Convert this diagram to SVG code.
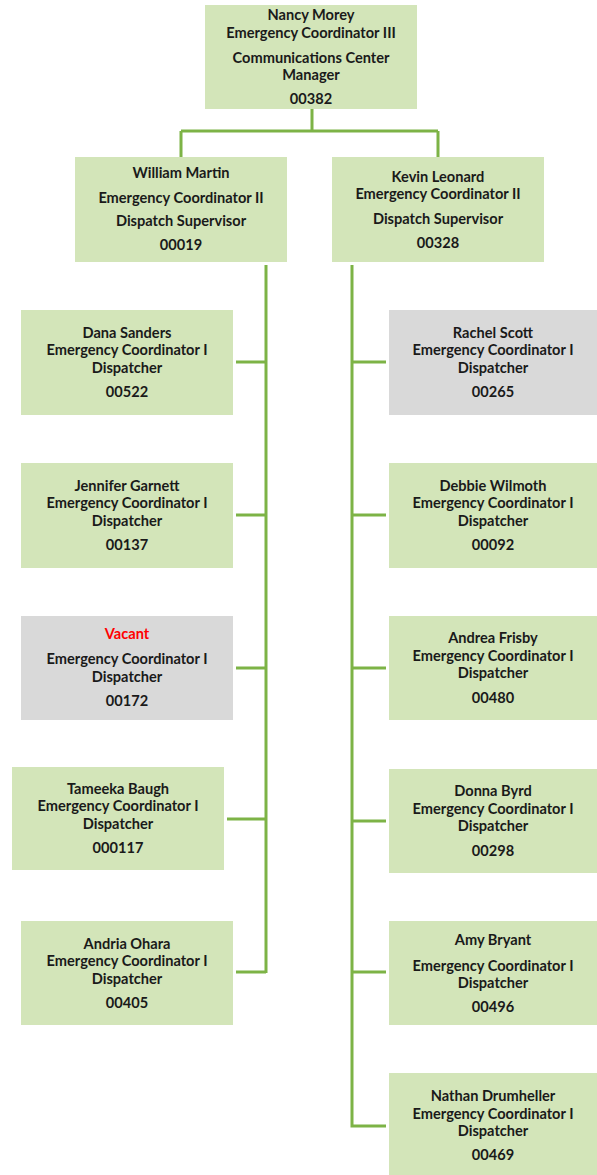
<svg xmlns="http://www.w3.org/2000/svg" width="597" height="1175" viewBox="0 0 597 1175">
<style>
.g{fill:#D3E5B9}
.v{fill:#D9D9D9}
text{font-family:Lato,"Liberation Sans",sans-serif;font-weight:bold;font-size:14.6px;fill:#1a1a1a;text-anchor:middle}
.red{fill:#FF0000}
.c{stroke:#7DB346;stroke-width:3;fill:none}
</style>
<rect width="597" height="1175" fill="#fff"/>
<g id="connectors">
<path class="c" d="M312 109V131M181 131H438M181 131V157M438 131V157"/>
<path class="c" d="M266 265V973M236 362H266M236 515H266M236 668H266M227 819H266M236 972H266"/>
<path class="c" d="M352 265V1126H386M352 362H386M352 515H386M352 668H386M352 821H386M352 972H386"/>
</g>
<g id="nancy"><rect class="g" x="205" y="5" width="212" height="104"/>
<text x="311" y="20">Nancy Morey</text><text x="311" y="38">Emergency Coordinator III</text><text x="311" y="63">Communications Center</text><text x="311" y="80">Manager</text><text x="311" y="104">00382</text></g>
<g id="william"><rect class="g" x="75" y="157" width="212" height="105"/>
<text x="181" y="178">William Martin</text><text x="181" y="203">Emergency Coordinator II</text><text x="181" y="226">Dispatch Supervisor</text><text x="181" y="250">00019</text></g>
<g id="kevin"><rect class="g" x="332" y="157" width="212" height="105"/>
<text x="438" y="182">Kevin Leonard</text><text x="438" y="199">Emergency Coordinator II</text><text x="438" y="224">Dispatch Supervisor</text><text x="438" y="248">00328</text></g>
<g id="dana"><rect class="g" x="21" y="310" width="212" height="105"/>
<text x="127" y="338">Dana Sanders</text><text x="127" y="355">Emergency Coordinator I</text><text x="127" y="373">Dispatcher</text><text x="127" y="397">00522</text></g>
<g id="jennifer"><rect class="g" x="21" y="463" width="212" height="105"/>
<text x="127" y="491">Jennifer Garnett</text><text x="127" y="508">Emergency Coordinator I</text><text x="127" y="526">Dispatcher</text><text x="127" y="550">00137</text></g>
<g id="vacant"><rect class="v" x="21" y="616" width="212" height="104"/>
<text class="red" x="127" y="639">Vacant</text><text x="127" y="664">Emergency Coordinator I</text><text x="127" y="682">Dispatcher</text><text x="127" y="706">00172</text></g>
<g id="tameeka"><rect class="g" x="12" y="767" width="212" height="103"/>
<text x="118" y="794">Tameeka Baugh</text><text x="118" y="811">Emergency Coordinator I</text><text x="118" y="829">Dispatcher</text><text x="118" y="853">000117</text></g>
<g id="andria"><rect class="g" x="21" y="921" width="212" height="104"/>
<text x="127" y="949">Andria Ohara</text><text x="127" y="966">Emergency Coordinator I</text><text x="127" y="984">Dispatcher</text><text x="127" y="1008">00405</text></g>
<g id="rachel"><rect class="v" x="389" y="310" width="208" height="105"/>
<text x="493" y="338">Rachel Scott</text><text x="493" y="355">Emergency Coordinator I</text><text x="493" y="373">Dispatcher</text><text x="493" y="397">00265</text></g>
<g id="debbie"><rect class="g" x="389" y="463" width="208" height="105"/>
<text x="493" y="491">Debbie Wilmoth</text><text x="493" y="508">Emergency Coordinator I</text><text x="493" y="526">Dispatcher</text><text x="493" y="550">00092</text></g>
<g id="andrea"><rect class="g" x="389" y="616" width="208" height="104"/>
<text x="493" y="643">Andrea Frisby</text><text x="493" y="661">Emergency Coordinator I</text><text x="493" y="678">Dispatcher</text><text x="493" y="703">00480</text></g>
<g id="donna"><rect class="g" x="389" y="769" width="208" height="104"/>
<text x="493" y="796">Donna Byrd</text><text x="493" y="814">Emergency Coordinator I</text><text x="493" y="831">Dispatcher</text><text x="493" y="856">00298</text></g>
<g id="amy"><rect class="g" x="389" y="921" width="208" height="104"/>
<text x="493" y="945">Amy Bryant</text><text x="493" y="971">Emergency Coordinator I</text><text x="493" y="988">Dispatcher</text><text x="493" y="1012">00496</text></g>
<g id="nathan"><rect class="g" x="389" y="1073" width="208" height="102"/>
<text x="493" y="1101">Nathan Drumheller</text><text x="493" y="1119">Emergency Coordinator I</text><text x="493" y="1136">Dispatcher</text><text x="493" y="1160">00469</text></g>
</svg>
